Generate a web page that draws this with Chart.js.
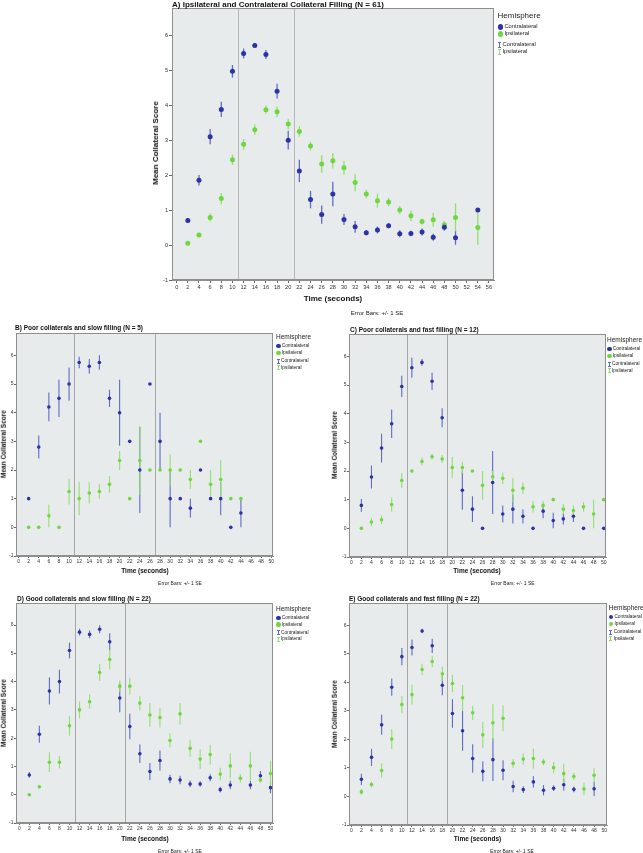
<!DOCTYPE html>
<html><head><meta charset="utf-8">
<script src="https://cdn.jsdelivr.net/npm/chart.js@4.4.0/dist/chart.umd.min.js"></script>
<style>
html,body{margin:0;padding:0;background:#fff;}
body{width:643px;height:853px;overflow:hidden;position:relative;font-family:"Liberation Sans",Arial,sans-serif;}
.t{position:absolute;white-space:nowrap;color:#111;line-height:1;}
canvas{position:absolute;}
.gl{position:absolute;box-sizing:border-box;}
</style></head><body>
<script>
// ---------------- DATA ----------------
const yTicks = [-1,0,1,2,3,4,5,6];
const xTicksA = [0,2,4,6,8,10,12,14,16,18,20,22,24,26,28,30,32,34,36,38,40,42,44,46,48,50,52,54,56];
const xTicksBE = [0,2,4,6,8,10,12,14,16,18,20,22,24,26,28,30,32,34,36,38,40,42,44,46,48,50];

// Panel A
const timeA = [2,4,6,8,10,12,14,16,18,20,22,24,26,28,30,32,34,36,38,40,42,44,46,48,50,54];
const aContraMean = [0.70,1.85,3.10,3.88,4.97,5.48,5.71,5.45,4.40,3.00,2.12,1.30,0.87,1.46,0.73,0.52,0.35,0.43,0.55,0.32,0.33,0.37,0.22,0.51,0.21,1.00];
const aContraSE   = [0.07,0.15,0.22,0.22,0.18,0.14,0.06,0.13,0.21,0.27,0.32,0.25,0.26,0.35,0.16,0.17,0.07,0.10,0.07,0.10,0.08,0.10,0.10,0.10,0.20,0];
const aIpsiMean   = [0.05,0.29,0.79,1.33,2.44,2.88,3.30,3.87,3.81,3.46,3.25,2.83,2.32,2.41,2.21,1.79,1.46,1.27,1.23,1.00,0.84,0.67,0.72,0.58,0.79,0.50];
const aIpsiSE     = [0.03,0.04,0.12,0.16,0.15,0.15,0.15,0.12,0.15,0.15,0.15,0.12,0.25,0.22,0.20,0.25,0.12,0.20,0.12,0.12,0.15,0.09,0.20,0.10,0.40,0.50];
const aRefLines = [11,21];

// Panel B
const timeB = [2,4,6,8,10,12,14,16,18,20,22,24,26,28,30,32,34,36,38,40,42,44];
const bContraMean = [1.0,2.8,4.2,4.5,5.0,5.75,5.62,5.75,4.5,4.0,3.0,2.0,5.0,3.0,1.0,1.0,0.67,2.0,1.0,1.0,0.0,0.5];
const bContraSE   = [0,0.4,0.5,0.65,0.58,0.2,0.25,0.25,0.3,1.15,0,1.5,0,1.0,1.0,0,0.33,0,0,0.58,0,0.5];
const bIpsiMean   = [0,0,0.4,0,1.25,1.0,1.2,1.25,1.5,2.33,1.0,2.33,2.0,2.0,2.0,2.0,1.67,3.0,1.5,1.67,1.0,1.0];
const bIpsiSE     = [0,0,0.4,0,0.45,0.58,0.37,0.25,0.29,0.33,0,1.2,0,0,0.55,0,0.33,0,0.5,0.67,0,0];
const bRefLines = [11,27];

// Panel C
const timeC = [2,4,6,8,10,12,14,16,18,20,22,24,26,28,30,32,34,36,38,40,42,44,46,48,50];
const cContraMean = [0.8,1.79,2.8,3.65,4.95,5.6,5.79,5.13,3.86,null,1.33,0.67,0.0,1.6,0.5,0.67,0.42,0.0,0.6,0.27,0.33,0.42,0.0,null,0.0];
const cContraSE   = [0.22,0.4,0.5,0.5,0.37,0.35,0.12,0.3,0.33,null,0.68,0.45,0,1.1,0.3,0.5,0.25,0,0.25,0.27,0.2,0.2,0,null,0];
const cIpsiMean   = [0,0.22,0.3,0.83,1.67,2.0,2.33,2.5,2.42,2.12,2.12,2.0,1.5,1.8,1.75,1.33,1.4,0.75,0.8,1.0,0.67,0.62,0.75,0.5,1.0];
const cIpsiSE     = [0,0.15,0.15,0.25,0.25,0.05,0.14,0.1,0.14,0.37,0.2,0,0.5,0.2,0.2,0.42,0.2,0.2,0.15,0,0.17,0.18,0.17,0.5,0];
const cRefLines = [11,19];

// Panel D
const timeD = [2,4,6,8,10,12,14,16,18,20,22,24,26,28,30,32,34,36,38,40,42,44,46,48,50];
const dContraMean = [0.7,2.14,3.67,4.0,5.1,5.75,5.67,5.85,5.41,3.42,2.41,1.45,0.82,1.21,0.56,0.52,0.38,0.38,0.6,0.18,0.34,null,0.34,0.67,0.25];
const dContraSE   = [0.1,0.3,0.48,0.42,0.28,0.12,0.14,0.14,0.3,0.5,0.45,0.33,0.3,0.35,0.15,0.15,0.12,0.1,0.12,0.1,0.15,null,0.15,0.17,0.2];
const dIpsiMean   = [0,0.28,1.15,1.15,2.44,3.0,3.29,4.32,4.78,3.84,3.84,3.24,2.82,2.73,1.92,2.86,1.64,1.26,1.42,0.73,1.02,0.58,1.02,0.52,0.75];
const dIpsiSE     = [0,0.06,0.35,0.22,0.35,0.3,0.25,0.3,0.35,0.2,0.3,0.25,0.42,0.35,0.25,0.38,0.3,0.35,0.35,0.22,0.45,0.15,0.5,0.1,0.45];
const dRefLines = [11,21];

// Panel E
const timeE = [2,4,6,8,10,12,14,16,18,20,22,24,26,28,30,32,34,36,38,40,42,44,46,48];
const eContraMean = [0.6,1.37,2.51,3.83,4.9,5.22,5.8,5.28,3.9,2.91,2.3,1.33,0.88,1.29,0.92,0.35,0.24,0.51,0.22,0.29,0.41,0.25,null,0.27];
const eContraSE   = [0.2,0.3,0.35,0.3,0.3,0.28,0.08,0.25,0.35,0.5,0.7,0.5,0.35,0.75,0.35,0.2,0.12,0.2,0.18,0.1,0.2,0.1,null,0.25];
const eIpsiMean   = [0.16,0.42,0.91,2.01,3.22,3.57,4.45,4.73,4.3,3.96,3.46,2.93,2.16,2.58,2.74,1.16,1.31,1.33,1.21,1.01,0.8,0.7,0.26,0.74];
const eIpsiSE     = [0.1,0.1,0.25,0.35,0.3,0.35,0.2,0.2,0.25,0.3,0.45,0.25,0.45,0.65,0.45,0.15,0.2,0.35,0.12,0.2,0.35,0.12,0.22,0.25];
const eRefLines = [11,19];

// ---------------- STYLE / LAYOUT ----------------
const FONT = '"Liberation Sans", Arial, sans-serif';
const BLUE = '#2b33a6', BLUE_BAR = '#5f6bc9';
const GREEN = '#6fd640', GREEN_BAR = '#93e070';
const PLOT_BG = '#e7ebeb', PLOT_BORDER = '#8e8e8e';

function addText(txt, x, y, size, bold, anchor, rot, color){
  const d = document.createElement('div');
  d.className = 't';
  d.textContent = txt;
  d.style.left = x + 'px';
  d.style.top = y + 'px';
  d.style.fontSize = size + 'px';
  d.style.fontWeight = bold ? 'bold' : 'normal';
  if (color) d.style.color = color;
  let tf = anchor === 'center' ? 'translate(-50%,-50%)' : 'translate(0,-50%)';
  if (rot) tf += ' rotate(-90deg)';
  d.style.transform = tf;
  document.body.appendChild(d);
}

function addLegend(x, y, big){
  addText('Hemisphere', x, y, big ? 8 : 6.5, false, 'left', false, '#222');
  const off = big ? [11.3, 18.3, 29.3, 36.3] : [9, 15.8, 24, 30.5];
  const fs = big ? 5.8 : 4.8;
  const dia = big ? 5.6 : 4.4;
  const items = [['Contralateral', BLUE, 'dot'], ['Ipsilateral', GREEN, 'dot'], ['Contralateral', BLUE_BAR, 'bar'], ['Ipsilateral', GREEN_BAR, 'bar']];
  items.forEach((it, i) => {
    const cy = y + off[i];
    const g = document.createElement('div');
    g.className = 'gl';
    if (it[2] === 'dot') {
      g.style.width = dia + 'px'; g.style.height = dia + 'px';
      g.style.borderRadius = '50%'; g.style.background = it[1];
      g.style.left = (x + 0.3) + 'px'; g.style.top = (cy - dia / 2) + 'px';
    } else {
      const h = big ? 6 : 5;
      g.style.width = '3px'; g.style.height = h + 'px';
      g.style.borderTop = '1px solid ' + it[1]; g.style.borderBottom = '1px solid ' + it[1];
      g.style.background = 'linear-gradient(' + it[1] + ',' + it[1] + ') center/1px 100% no-repeat';
      g.style.left = (x + 0.5) + 'px'; g.style.top = (cy - h / 2) + 'px';
    }
    document.body.appendChild(g);
    addText(it[0], x + (it[2] === 'dot' ? dia + 1.3 : 5), cy, fs, false, 'left', false, '#222');
  });
}

const panelPlugin = {
  id: 'panelDeco',
  beforeDraw(chart) {
    const {ctx, chartArea: a} = chart;
    ctx.save();
    ctx.fillStyle = PLOT_BG;
    ctx.fillRect(a.left, a.top, a.right - a.left, a.bottom - a.top);
    ctx.restore();
  },
  beforeDatasetsDraw(chart) {
    const {ctx, chartArea: a, scales} = chart;
    const o = chart.options.plugins.panelDeco;
    ctx.save();
    ctx.beginPath(); ctx.rect(a.left, a.top, a.right - a.left, a.bottom - a.top); ctx.clip();
    // reference lines
    ctx.strokeStyle = o.refColor; ctx.lineWidth = 1;
    o.refLines.forEach(v => {
      const px = Math.round(scales.x.getPixelForValue(v)) + 0.5;
      ctx.beginPath(); ctx.moveTo(px, a.top); ctx.lineTo(px, a.bottom); ctx.stroke();
    });
    // error bars (+/- 1 SE)
    chart.data.datasets.forEach(ds => {
      ctx.strokeStyle = ds.barColor; ctx.lineWidth = o.barWidth;
      ds.data.forEach((p, i) => {
        const se = ds.se[i];
        if (p.y == null || !se) return;
        const px = scales.x.getPixelForValue(p.x);
        ctx.beginPath();
        ctx.moveTo(px, scales.y.getPixelForValue(p.y - se));
        ctx.lineTo(px, scales.y.getPixelForValue(p.y + se));
        ctx.stroke();
      });
    });
    ctx.restore();
  },
  afterDraw(chart) {
    const {ctx, chartArea: a} = chart;
    ctx.save();
    ctx.strokeStyle = PLOT_BORDER; ctx.lineWidth = 1;
    ctx.strokeRect(Math.round(a.left) + 0.5, Math.round(a.top) + 0.5, Math.round(a.right - a.left) - 1, Math.round(a.bottom - a.top) - 1);
    ctx.restore();
  }
};

function makePanel(p) {
  const PL = 2, PT = 6, PR = 8, PB = 2, YW = 14, XH = 14;
  const w = (p.R - p.L) + PL + YW + PR;
  const h = (p.B - p.T) + PT + PB + XH;
  const cv = document.createElement('canvas');
  cv.width = w; cv.height = h;
  cv.style.width = w + 'px'; cv.style.height = h + 'px';
  cv.style.left = (p.L - PL - YW) + 'px';
  cv.style.top = (p.T - PT) + 'px';
  document.body.appendChild(cv);
  const toPts = (cats, vals) => cats.map((c, i) => ({x: c, y: vals[i]}));
  const tickFont = {size: p.big ? 5.6 : 5, family: FONT};
  new Chart(cv.getContext('2d'), {
    type: 'scatter',
    data: {
      datasets: [
        {label: 'Contralateral', data: toPts(p.cats, p.cm), se: p.cs, barColor: BLUE_BAR,
         pointBackgroundColor: BLUE, pointBorderWidth: 0, pointRadius: p.big ? 2.5 : 1.8},
        {label: 'Ipsilateral', data: toPts(p.cats, p.im), se: p.is, barColor: GREEN_BAR,
         pointBackgroundColor: GREEN, pointBorderWidth: 0, pointRadius: p.big ? 2.5 : 1.8}
      ]
    },
    options: {
      responsive: false, animation: false, devicePixelRatio: 1,
      layout: {padding: {left: PL, top: PT, right: PR, bottom: PB}},
      plugins: {legend: {display: false}, tooltip: {enabled: false},
        panelDeco: {refLines: p.ref, barWidth: p.big ? 1.3 : 1.1, refColor: p.big ? '#b8b8b8' : '#a6a6a6'}},
      scales: {
        x: {type: 'linear', min: p.xMin, max: p.xMax,
          afterFit(s) { s.height = XH; },
          afterBuildTicks(s) { s.ticks = p.xTicks.map(v => ({value: v})); },
          grid: {drawOnChartArea: false, drawTicks: true, tickLength: p.big ? 3 : 2, color: '#666', lineWidth: 1},
          border: {display: true, color: PLOT_BORDER},
          ticks: {font: tickFont, color: '#333', padding: p.big ? 1 : 0.5, maxRotation: 0, autoSkip: false}},
        y: {type: 'linear', min: -1, max: p.yMax,
          afterFit(s) { s.width = YW; },
          afterBuildTicks(s) { s.ticks = yTicks.map(v => ({value: v})); },
          grid: {drawOnChartArea: false, drawTicks: true, tickLength: p.big ? 3 : 2, color: '#666', lineWidth: 1},
          border: {display: true, color: PLOT_BORDER},
          ticks: {font: tickFont, color: '#333', padding: p.big ? 1 : 0.5, autoSkip: false}}
      }
    },
    plugins: [panelPlugin]
  });
}

// Panel A
makePanel({L:172, T:8, R:494, B:280, big:true, xMin:-0.84, xMax:56.9, yMax:6.78, xTicks:xTicksA,
  cats:timeA, cm:aContraMean, cs:aContraSE, im:aIpsiMean, is:aIpsiSE, ref:aRefLines});
addText('A) Ipsilateral and Contralateral Collateral Filling (N = 61)', 172, 4.5, 8, true, 'left');
addText('Mean Collateral Score', 155.5, 143, 8, true, 'center', true);
addText('Time (seconds)', 333, 299, 8, true, 'center');
addText('Error Bars: +/- 1 SE', 377, 313, 6, false, 'center', false, '#222');
addLegend(497.5, 15.7, true);

// Panel B
makePanel({L:16, T:333, R:273, B:556, big:false, xMin:-0.5, xMax:50.35, yMax:6.78, xTicks:xTicksBE,
  cats:timeB, cm:bContraMean, cs:bContraSE, im:bIpsiMean, is:bIpsiSE, ref:bRefLines});
addText('B) Poor collaterals and slow filling (N = 5)', 15, 328, 6.5, true, 'left');
addText('Mean Collateral Score', 3.8, 444, 6.5, true, 'center', true);
addText('Time (seconds)', 145, 571, 6.5, true, 'center');
addText('Error Bars: +/- 1 SE', 180, 583, 5, false, 'center', false, '#222');
addLegend(276, 337, false);

// Panel C
makePanel({L:349, T:334, R:606, B:557, big:false, xMin:-0.45, xMax:50.45, yMax:6.78, xTicks:xTicksBE,
  cats:timeC, cm:cContraMean, cs:cContraSE, im:cIpsiMean, is:cIpsiSE, ref:cRefLines});
addText('C) Poor collaterals and fast filling (N = 12)', 350, 330, 6.5, true, 'left');
addText('Mean Collateral Score', 335.3, 445, 6.5, true, 'center', true);
addText('Time (seconds)', 477, 571, 6.5, true, 'center');
addText('Error Bars: +/- 1 SE', 512.7, 583, 5, false, 'center', false, '#222');
addLegend(607, 340, false);

// Panel D
makePanel({L:16, T:603, R:273, B:823, big:false, xMin:-0.65, xMax:50.5, yMax:6.78, xTicks:xTicksBE,
  cats:timeD, cm:dContraMean, cs:dContraSE, im:dIpsiMean, is:dIpsiSE, ref:dRefLines});
addText('D) Good collaterals and slow filling (N = 22)', 17, 599, 6.5, true, 'left');
addText('Mean Collateral Score', 3.8, 713, 6.5, true, 'center', true);
addText('Time (seconds)', 145, 839, 6.5, true, 'center');
addText('Error Bars: +/- 1 SE', 180, 850.5, 5, false, 'center', false, '#222');
addLegend(276, 608.7, false);

// Panel E
makePanel({L:349, T:603, R:607, B:825, big:false, xMin:-0.45, xMax:50.55, yMax:6.78, xTicks:xTicksBE,
  cats:timeE, cm:eContraMean, cs:eContraSE, im:eIpsiMean, is:eIpsiSE, ref:eRefLines});
addText('E) Good collaterals and fast filling (N = 22)', 349, 599, 6.5, true, 'left');
addText('Mean Collateral Score', 335.3, 714, 6.5, true, 'center', true);
addText('Time (seconds)', 477.5, 839, 6.5, true, 'center');
addText('Error Bars: +/- 1 SE', 512, 850.5, 5, false, 'center', false, '#222');
addLegend(608.7, 608.3, false);
</script>
</body></html>
